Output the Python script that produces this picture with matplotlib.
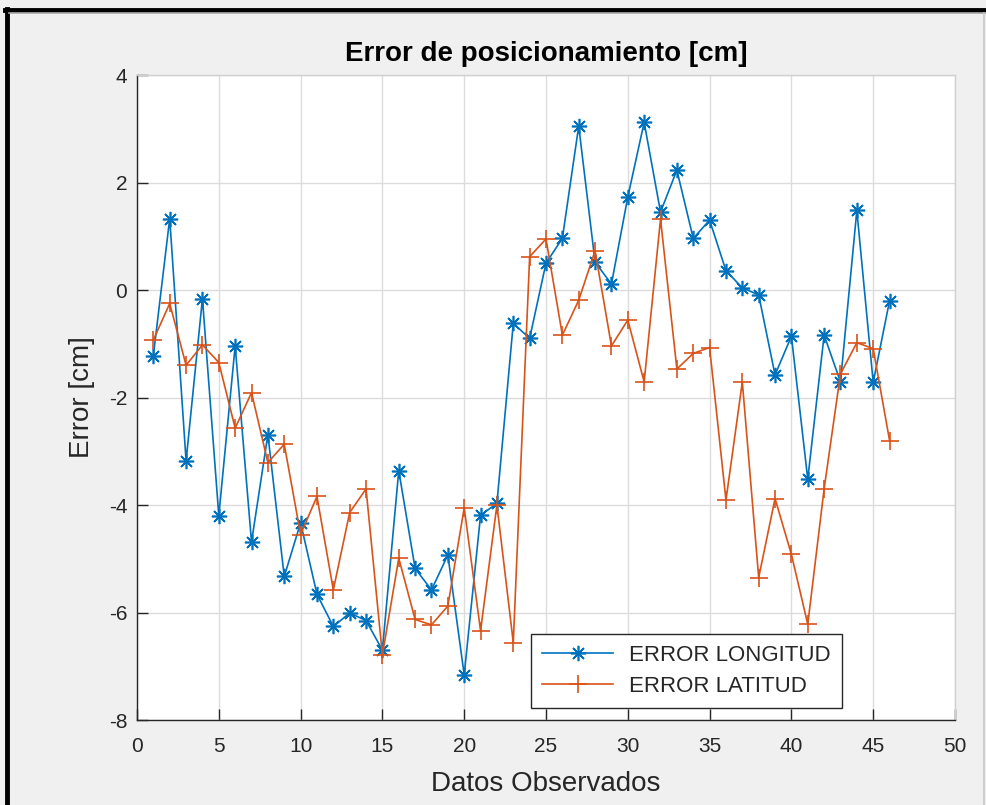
import matplotlib
matplotlib.use("Agg")
import matplotlib.pyplot as plt
from matplotlib.lines import Line2D
import numpy as np

plt.rcParams['font.family'] = ['Liberation Sans', 'DejaVu Sans']
plt.rcParams['axes.unicode_minus'] = False

# data
datos = list(range(1, 47))
error_longitud = [
    -1.22, 1.33, -3.18, -0.16, -4.20, -1.04, -4.69, -2.69, -5.33, -4.33,
    -5.66, -6.26, -6.01, -6.15, -6.70, -3.36, -5.18, -5.58, -4.93, -7.16,
    -4.19, -3.97, -0.62, -0.90, 0.50, 0.96, 3.05, 0.52, 0.11, 1.73,
    3.12, 1.45, 2.23, 0.96, 1.30, 0.36, 0.04, -0.09, -1.58, -0.86,
    -3.52, -0.84, -1.71, 1.48, -1.72, -0.20,
]
error_latitud = [
    -0.93, -0.25, -1.40, -1.02, -1.35, -2.57, -1.91, -3.21, -2.87, -4.55,
    -3.84, -5.58, -4.14, -3.70, -6.79, -4.99, -6.13, -6.23, -5.88, -4.05,
    -6.34, -4.00, -6.56, 0.62, 0.95, -0.84, -0.19, 0.73, -1.04, -0.56,
    -1.71, 1.32, -1.47, -1.18, -1.07, -3.91, -1.71, -5.35, -3.88, -4.92,
    -6.22, -3.70, -1.56, -0.98, -1.09, -2.80,
]
x_ticks = [0, 5, 10, 15, 20, 25, 30, 35, 40, 45, 50]
y_ticks = [-8, -6, -4, -2, 0, 2, 4]

BLUE = '#0072BD'
ORANGE = '#D95319'
BG = '#f0f0f0'
TXT = '#262626'

fig = plt.figure(figsize=(9.87, 8.05), dpi=100, facecolor=BG)
ax = fig.add_axes([137 / 987, 1 - 720 / 805, (955 - 137) / 987, (720 - 75) / 805])
ax.set_facecolor('white')

ax.plot(datos, error_longitud, color=BLUE, lw=1.2, marker=(8, 2, 0),
        markersize=11, markeredgewidth=1.2, label='ERROR LONGITUD', zorder=3)
ax.plot(datos, error_latitud, color=ORANGE, lw=1.2, marker='+',
        markersize=13, markeredgewidth=1.2, label='ERROR LATITUD', zorder=3)

ax.set_xlim(0, 50)
ax.set_ylim(-8, 4)
ax.set_xticks(x_ticks)
ax.set_yticks(y_ticks)
ax.grid(True, color='#dcdcdc', linewidth=1.0)
ax.set_axisbelow(True)

for side in ['left', 'bottom']:
    ax.spines[side].set_color(TXT)
    ax.spines[side].set_linewidth(1.0)
for side in ['top', 'right']:
    ax.spines[side].set_color('#d0d0d0')
    ax.spines[side].set_linewidth(1.0)

ax.tick_params(axis='both', direction='in', length=8, width=1.0,
               colors=TXT, labelsize=15)
ax.tick_params(axis='x', pad=12)
ax.tick_params(axis='y', pad=7)

ax.set_title('Error de posicionamiento [cm]', fontsize=20, fontweight='bold',
             color='black', pad=10)
ax.set_xlabel('Datos Observados', fontsize=20, color=TXT, labelpad=11)
ax.set_ylabel('Error [cm]', fontsize=20, color=TXT, labelpad=10)

leg = ax.legend(loc='lower left', bbox_to_anchor=(0.4817, 0.0186),
                borderaxespad=0, fontsize=16, handlelength=3.2,
                fancybox=False, framealpha=1, edgecolor=TXT,
                labelspacing=0.45, borderpad=0.5, handletextpad=0.7)
leg.get_frame().set_linewidth(1.0)
for t in leg.get_texts():
    t.set_color(TXT)

# window frame like the screenshot
fig.add_artist(Line2D([7 / 987, 7 / 987], [0, 1 - 9 / 805], color='black', lw=3.5))
fig.add_artist(Line2D([5 / 987, 1], [1 - 10 / 805, 1 - 10 / 805], color='black', lw=3.5))
fig.add_artist(Line2D([9 / 987, 1], [1 - 13.5 / 805, 1 - 13.5 / 805], color='#a8a8a8', lw=1.2))
fig.add_artist(Line2D([984.5 / 987, 984.5 / 987], [0, 1 - 13 / 805], color='#c8c8c8', lw=1.2))

fig.savefig('out.png', dpi=100, facecolor=BG)
